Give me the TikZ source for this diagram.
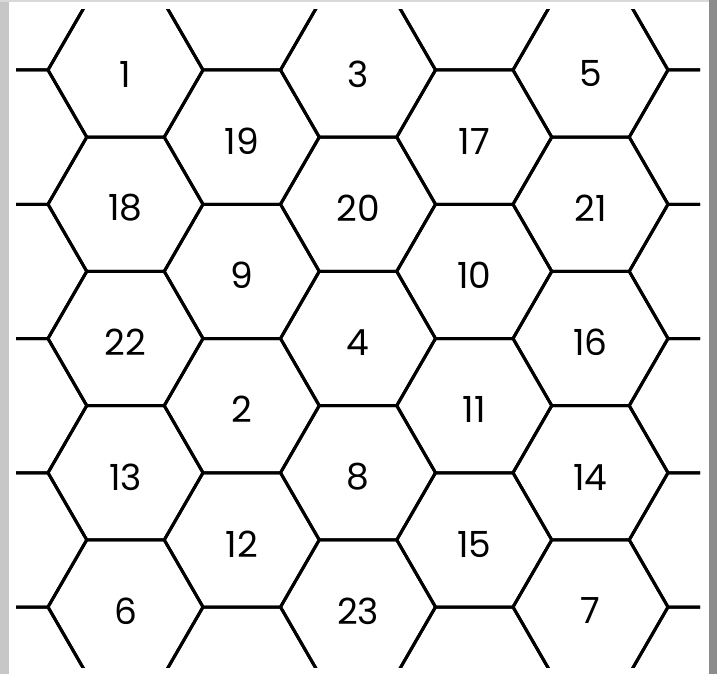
\documentclass[tikz,border=0pt]{standalone}
\usepackage{fontspec}
\setmainfont{Poppins}
\begin{document}
\begin{tikzpicture}[x=0.5pt,y=-0.5pt,line width=1.5pt,
  num/.style={font=\fontsize{18}{20}\selectfont}]
\useasboundingbox (0,0) rectangle (717,674);
\fill[white] (0,0) rectangle (717,674);
% scanned page edges
\fill[black!22] (0,0) rectangle (9,674);
\fill[black!15] (0,0) rectangle (717,2);
\fill[black!45] (709,0) rectangle (717,674);

% honeycomb, cut to the printed area
\begin{scope}
\clip (16,10) rectangle (700,667);
\foreach \c in {0,...,6} {
  \pgfmathsetmacro{\cx}{125.5+(\c-1)*116.25}
  \pgfmathsetmacro{\oy}{67.125*(1-mod(\c,2))}
  \foreach \r in {-1,...,5} {
    \draw (\cx,\oy+70+\r*134.25) ++(77.5,0) -- ++(-38.75,67.125) -- ++(-77.5,0)
      -- ++(-38.75,-67.125) -- ++(38.75,-67.125) -- ++(77.5,0) -- cycle;
  }
}
\end{scope}

\node[num] (n1) at (125.5,74) {1};
\node[num] (n18) at (125.5,208) {18};
\node[num] (n22) at (125.5,342.5) {22};
\node[num] (n13) at (125.5,477) {13};
\node[num] (n6) at (125.5,611) {6};

\node[num] (n19) at (241.75,141) {19};
\node[num] (n9) at (241.75,275.5) {9};
\node[num] (n2) at (241.75,409.5) {2};
\node[num] (n12) at (241.75,544) {12};

\node[num] (n3) at (358,74) {3};
\node[num] (n20) at (358,208) {20};
\node[num] (n4) at (358,342.5) {4};
\node[num] (n8) at (358,477) {8};
\node[num] (n23) at (358,611) {23};

\node[num] (n17) at (474.25,141) {17};
\node[num] (n10) at (474.25,275.5) {10};
\node[num] (n11) at (474.25,409.5) {11};
\node[num] (n15) at (474.25,544) {15};

\node[num] (n5) at (590.5,74) {5};
\node[num] (n21) at (590.5,208) {21};
\node[num] (n16) at (590.5,342.5) {16};
\node[num] (n14) at (590.5,477) {14};
\node[num] (n7) at (590.5,611) {7};
\end{tikzpicture}
\end{document}
